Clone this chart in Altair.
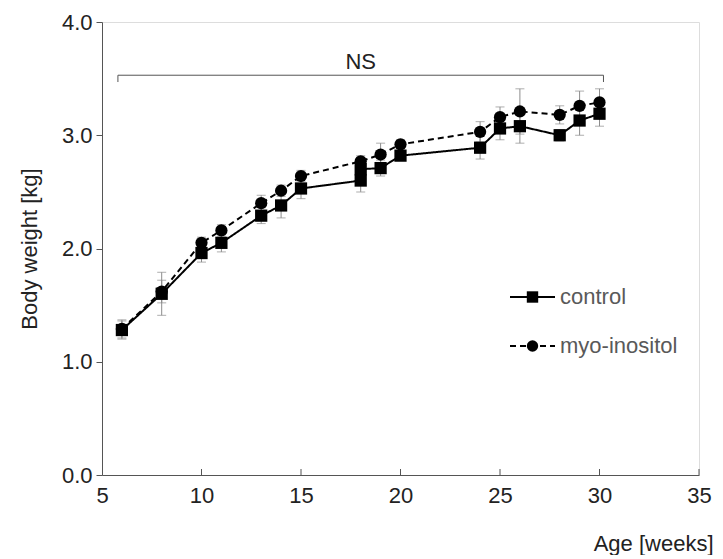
import altair as alt
import pandas as pd

# ---- data ----
weeks_control = [6, 8, 10, 11, 13, 14, 15, 18, 18, 19, 20, 24, 25, 26, 28, 29, 30]
bw_control = [1.28, 1.60, 1.96, 2.05, 2.29, 2.38, 2.53, 2.60, 2.70, 2.71, 2.82, 2.89, 3.06, 3.08, 3.00, 3.13, 3.19]
sd_control = [0.08, 0.19, 0.08, 0.08, 0.07, 0.11, 0.09, 0.10, 0.05, 0.07, 0.04, 0.10, 0.10, 0.15, 0.05, 0.13, 0.11]

weeks_myo = [6, 8, 10, 11, 13, 14, 15, 18, 19, 20, 24, 25, 26, 28, 29, 30]
bw_myo = [1.29, 1.62, 2.05, 2.16, 2.40, 2.51, 2.64, 2.77, 2.83, 2.92, 3.03, 3.16, 3.21, 3.18, 3.26, 3.29]
sd_myo = [0.08, 0.10, 0.05, 0.05, 0.07, 0.05, 0.05, 0.05, 0.10, 0.04, 0.09, 0.09, 0.20, 0.08, 0.13, 0.12]

groups = ["control", "myo-inositol"]
x_ticks = [10, 15, 20, 25, 30, 35]
y_ticks = [0.0, 1.0, 2.0, 3.0, 4.0]

ns_x = [5.8, 30.2]
ns_y = 3.53
ns_drop = 3.47
ns_label = "NS"
ns_text_y = 3.65

rows = []
for i, (w, v, s) in enumerate(zip(weeks_control, bw_control, sd_control)):
    rows.append(dict(group="control", order=i, week=w, bw=v, lo=v - s, hi=v + s))
for i, (w, v, s) in enumerate(zip(weeks_myo, bw_myo, sd_myo)):
    rows.append(dict(group="myo-inositol", order=i, week=w, bw=v, lo=v - s, hi=v + s))
df = pd.DataFrame(rows)

FONT = "Liberation Sans"
FS = 22
W, H = 597, 453

# legend placement (pixels inside the plot area)
LEG_X0, LEG_X1, LEG_TX = 408, 453, 458
leg_rows_px = [275, 324]
leg = pd.DataFrame({"group": groups, "ly": leg_rows_px})

xs = alt.Scale(domain=[5, 35], nice=False)
ys = alt.Scale(domain=[0, 4], nice=False)
dash_scale = alt.Scale(domain=groups, range=[[1, 0], [6, 4]])

x_axis = alt.Axis(values=[5] + x_ticks, ticks=False, grid=False, labelFontSize=FS, labelPadding=10,
                  labelColor="#222222", domainColor="#555555", labelFont=FONT,
                  title="Age [weeks]", titleFont=FONT, titleFontSize=FS, titleFontWeight="normal",
                  titleColor="#222222", titleAnchor="end", titleAlign="right", titleX=611,
                  titleY=68, titleBaseline="middle", labelFlush=False)
y_axis = alt.Axis(values=y_ticks, format=".1f", grid=False, tickSize=6, tickColor="#555555",
                  domainColor="#555555", labelFontSize=FS, labelColor="#222222", labelFont=FONT,
                  labelPadding=4, title="Body weight [kg]", titleFont=FONT, titleFontSize=FS,
                  titleFontWeight="normal", titleColor="#222222", titlePadding=20)

base = alt.Chart(df)

err = base.mark_rule(color="#8c8c8c", strokeWidth=1).encode(
    x=alt.X("week:Q", scale=xs, axis=x_axis),
    y=alt.Y("lo:Q", scale=ys, axis=y_axis),
    y2="hi:Q",
)
cap_lo = base.mark_tick(color="#8c8c8c", thickness=1, size=9, orient="horizontal").encode(
    x=alt.X("week:Q", scale=xs), y=alt.Y("lo:Q", scale=ys))
cap_hi = base.mark_tick(color="#8c8c8c", thickness=1, size=9, orient="horizontal").encode(
    x=alt.X("week:Q", scale=xs), y=alt.Y("hi:Q", scale=ys))

lines = base.mark_line(color="black", strokeWidth=2).encode(
    x=alt.X("week:Q", scale=xs),
    y=alt.Y("bw:Q", scale=ys),
    detail="group:N",
    order="order:Q",
    strokeDash=alt.StrokeDash("group:N", scale=dash_scale, legend=None),
)

squares = base.transform_filter(alt.datum.group == "control").mark_square(
    color="black", size=150, opacity=1).encode(
    x=alt.X("week:Q", scale=xs), y=alt.Y("bw:Q", scale=ys))
circles = base.transform_filter(alt.datum.group == "myo-inositol").mark_circle(
    color="black", size=150, opacity=1).encode(
    x=alt.X("week:Q", scale=xs), y=alt.Y("bw:Q", scale=ys))

# ---- legend drawn as marks ----
lb = alt.Chart(leg)
leg_lines = lb.mark_rule(color="black", strokeWidth=2).encode(
    x=alt.value(LEG_X0), x2=alt.value(LEG_X1),
    y=alt.Y("ly:Q", scale=None),
    strokeDash=alt.StrokeDash("group:N", scale=dash_scale, legend=None),
)
leg_sq = lb.transform_filter(alt.datum.group == "control").mark_square(
    color="black", size=130, opacity=1).encode(
    x=alt.value((LEG_X0 + LEG_X1) / 2), y=alt.Y("ly:Q", scale=None))
leg_ci = lb.transform_filter(alt.datum.group == "myo-inositol").mark_circle(
    color="black", size=130, opacity=1).encode(
    x=alt.value((LEG_X0 + LEG_X1) / 2), y=alt.Y("ly:Q", scale=None))
leg_txt = lb.mark_text(font=FONT, fontSize=FS, color="#595959", align="left", baseline="middle").encode(
    x=alt.value(LEG_TX), y=alt.Y("ly:Q", scale=None), text="group:N")

# x ticks pointing inward
xt = alt.Chart(pd.DataFrame({"t": x_ticks})).mark_rule(color="#555555", strokeWidth=1).encode(
    x=alt.X("t:Q", scale=xs), y=alt.value(H), y2=alt.value(H - 6))

# NS bracket
br = pd.DataFrame({"x1": [ns_x[0]], "x2": [ns_x[1]], "y": [ns_y]})
bracket = alt.Chart(br).mark_rule(color="#555555", strokeWidth=1).encode(
    x=alt.X("x1:Q", scale=xs), x2="x2:Q", y=alt.Y("y:Q", scale=ys))
drops = alt.Chart(pd.DataFrame({"x": ns_x, "y": [ns_y] * 2, "y2": [ns_drop] * 2})).mark_rule(
    color="#555555", strokeWidth=1).encode(
    x=alt.X("x:Q", scale=xs), y=alt.Y("y:Q", scale=ys), y2="y2:Q")
ns_txt = alt.Chart(pd.DataFrame({"x": [(ns_x[0] + ns_x[1]) / 2], "y": [ns_text_y], "t": [ns_label]})).mark_text(
    font=FONT, fontSize=FS, color="#222222", baseline="middle").encode(
    x=alt.X("x:Q", scale=xs), y=alt.Y("y:Q", scale=ys), text="t:N")

chart = alt.layer(err, cap_lo, cap_hi, lines, squares, circles,
                  leg_lines, leg_sq, leg_ci, leg_txt,
                  xt, bracket, drops, ns_txt).properties(
    width=W, height=H, autosize=alt.AutoSizeParams(type="none"),
    padding={"left": 94, "top": 14, "right": 16, "bottom": 80},
).configure_view(stroke=None).configure(background="white")

chart.save("out.html", embed_options={"renderer": "svg", "actions": False})
